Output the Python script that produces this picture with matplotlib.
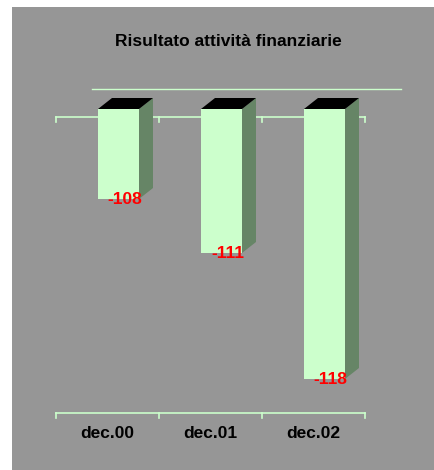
import matplotlib
matplotlib.use("Agg")
import matplotlib.pyplot as plt
from matplotlib.patches import Polygon, Rectangle

# data
categories = ["dec.00", "dec.01", "dec.02"]
values = [-108, -111, -118]
title = "Risultato attività finanziarie"

plt.rcParams['font.family'] = ['Liberation Sans', 'DejaVu Sans']

W, H = 434, 470
fig = plt.figure(figsize=(W / 100, H / 100), dpi=100)
fig.patch.set_facecolor("white")
# grey chart area
fig.patches.append(Rectangle((12 / W, 0), 1 - 12 / W, 1 - 7 / H, transform=fig.transFigure,
                             facecolor="#969696", edgecolor="none", zorder=-5))

# axes box in pixels: x 56..365, y 80..420
ax = fig.add_axes([56 / W, 1 - 420 / H, 309 / W, 340 / H])
ax.set_zorder(1)
ax.set_axis_off()
ax.set_xlim(-0.5, 2.5)
px_per_unit = 18.0
base = -103
ytop = base + (109 - 80) / px_per_unit
ybot = base - (420 - 109) / px_per_unit
ax.set_ylim(ybot, ytop)

xu = 1 / 103.0           # data x per pixel
yu = 1 / px_per_unit     # data y per pixel
line_col = "#ccffcc"
front = "#ccffcc"
side = "#668566"

def yval(py):
    return base - (py - 109) * yu

# back wall top line
ax.plot([-0.5 + 36 * xu, -0.5 + 345 * xu], [yval(89)] * 2, color=line_col, lw=1, clip_on=False, zorder=1)

# front category line with ticks (top and bottom)
for py in (117, 413):
    y = yval(py)
    ax.plot([-0.5, 2.5], [y, y], color=line_col, lw=1.2, clip_on=False, zorder=2)
    for b in range(4):
        ax.plot([b - 0.5, b - 0.5], [y, y - 5 * yu], color=line_col, lw=1.2, clip_on=False, zorder=2)

w = 41 * xu
dx, dy = 14 * xu, 11 * yu
for i, (cat, v) in enumerate(zip(categories, values)):
    x0 = i - 0.5 + 42 * xu
    ax.bar(x0, v - base, bottom=base, width=w, align="edge", color=front, edgecolor="none", zorder=3)
    ax.add_patch(Polygon([(x0 + w, base), (x0 + w + dx, base + dy), (x0 + w + dx, v + dy), (x0 + w, v)],
                         closed=True, facecolor=side, edgecolor="none", zorder=3))
    ax.add_patch(Polygon([(x0, base), (x0 + dx, base + dy), (x0 + w + dx, base + dy), (x0 + w, base)],
                         closed=True, facecolor="black", edgecolor="none", zorder=3))
    ax.text(x0 + w / 2 + 6 * xu, v, str(v), color="red", fontsize=12.5, fontweight="bold",
            ha="center", va="center", zorder=4)
    ax.text(i, yval(433), cat, color="black", fontsize=12.5, fontweight="bold",
            ha="center", va="center", clip_on=False)

fig.text(228 / W, 1 - 42 / H, title, fontsize=12.5, fontweight="bold", ha="center", va="center")

fig.savefig("out.png", dpi=100, facecolor=fig.get_facecolor())
